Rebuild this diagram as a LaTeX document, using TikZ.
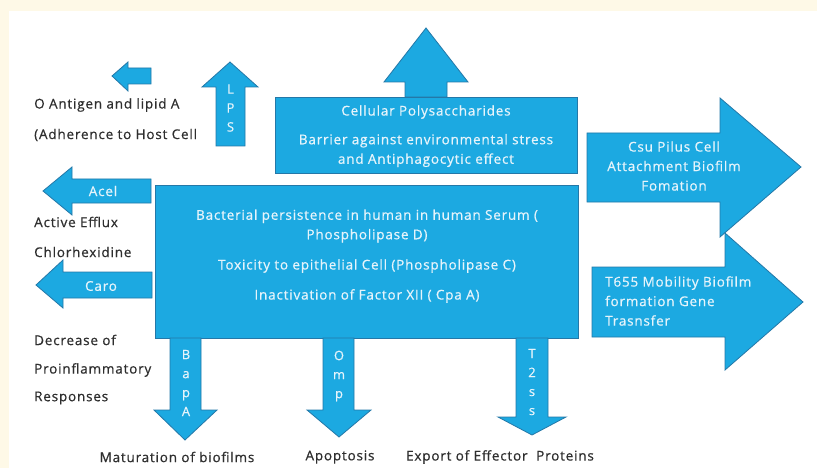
\documentclass[tikz,border=0pt]{standalone}
\usepackage{fontspec}
\setmainfont{Open Sans}[LetterSpace=6, FakeBold=0.6]
\definecolor{cream}{HTML}{FEF9E7}
\definecolor{arrowblue}{HTML}{1CA9E1}
\definecolor{edgeblue}{HTML}{2478A8}
\definecolor{intext}{HTML}{E6F4FB}
\definecolor{outtext}{HTML}{2E2E2E}
\tikzset{
  shapeblue/.style={fill=arrowblue, draw=edgeblue, line width=0.8pt, line join=miter},
  intxt/.style={text=intext, font=\fontsize{13.5}{19.5}\selectfont, inner sep=0pt, align=center},
  outtxt/.style={text=outtext, font=\fontsize{13.5}{15}\selectfont, inner sep=0pt},
  vtxt/.style={text=intext, font=\fontsize{13}{19}\selectfont, inner sep=0pt, align=center}
}
\begin{document}
\begin{tikzpicture}[x=1pt,y=-1pt]
\useasboundingbox (0,0) rectangle (817,468);
\fill[cream] (0,0) rectangle (817,468);
\fill[white] (9,11) rectangle (817,468);

% small top-left arrow
\draw[shapeblue] (112,76) -- (128,62) -- (128,68) -- (151,68) -- (151,84) -- (128,84) -- (128,91) -- cycle;
% LPS up arrow
\draw[shapeblue] (230,62) -- (258,87) -- (245,87) -- (245,146) -- (216,146) -- (216,87) -- (202,87) -- cycle;
\node[vtxt] (lps) at (230.5,108) {L\\P\\S};

% Cellular polysaccharides up arrow and box
\draw[shapeblue] (426,28) -- (468,82) -- (447,82) -- (447,97) -- (405,97) -- (405,82) -- (384,82) -- cycle;
\draw[shapeblue] (275,97) rectangle (577,173);
\node[intxt] (cp1) at (426,112) {Cellular Polysaccharides};
\node[intxt] (cp2) at (426,150.5) {Barrier against environmental stress\\and Antiphagocytic effect};

% Main box
\draw[shapeblue] (155,185) rectangle (578,338);
\node[intxt] (m1) at (367,226) {Bacterial persistence in human in human Serum (\\Phospholipase D)};
\node[intxt] (m2) at (367,266) {Toxicity to epithelial Cell (Phospholipase C)};
\node[intxt] (m3) at (367,296) {Inactivation of Factor XII ( Cpa A)};

% Acel arrow
\draw[shapeblue] (43,191) -- (72,167) -- (72,179) -- (151,179) -- (151,203) -- (72,203) -- (72,215) -- cycle;
\node[intxt] (acel) at (103,191) {Acel};
% Caro arrow
\draw[shapeblue] (36,285) -- (63,260) -- (63,272) -- (152,272) -- (152,298) -- (63,298) -- (63,308) -- cycle;
\node[intxt] (caro) at (101,286) {Caro};

% left texts
\node[outtxt, anchor=west] (t1) at (34,105) {O Antigen and lipid A};
\node[outtxt, anchor=west] (t2) at (34,135) {(Adherence to Host Cell};
\node[outtxt, anchor=west] (t3) at (34,222) {Active Efflux};
\node[outtxt, anchor=west] (t4) at (34,252) {Chlorhexidine};
\node[outtxt, anchor=west] (t5) at (34,340) {Decrease of};
\node[outtxt, anchor=west] (t6) at (34,370) {Proinflammatory};
\node[outtxt, anchor=west] (t7) at (34,398) {Responses};

% BapA down arrow
\draw[shapeblue] (170,338) -- (201,338) -- (201,410) -- (217,410) -- (185,440) -- (154,410) -- (170,410) -- cycle;
\node[vtxt] (bapa) at (186,383) {B\\a\\p\\A};
% Omp down arrow
\draw[shapeblue] (323,338) -- (354,338) -- (354,410) -- (371,410) -- (339,437) -- (307,410) -- (323,410) -- cycle;
\node[vtxt] (omp) at (339,376) {O\\m\\p};
% T2ss down arrow
\draw[shapeblue] (516,338) -- (548,338) -- (548,417) -- (566,417) -- (532,435) -- (498,417) -- (516,417) -- cycle;
\node[vtxt] (t2ss) at (532,382) {T\\2\\s\\s};

% bottom texts
\node[outtxt] (b1) at (177,457) {Maturation of biofilms};
\node[outtxt] (b2) at (340,457) {Apoptosis};
\node[outtxt] (b3) at (500,457) {Export of Effector\ \ Proteins};

% Csu right arrow
\draw[shapeblue] (587,133) -- (720,133) -- (720,98) -- (801,167) -- (720,237) -- (720,202) -- (587,202) -- cycle;
\node[intxt] (csu) at (674,166) {Csu Pilus Cell\\Attachment Biofilm\\Fomation};
% T655 right arrow
\draw[shapeblue] (592,267) -- (725,267) -- (725,233) -- (803,302) -- (725,370) -- (725,337) -- (592,337) -- cycle;
\node[intxt, align=left, anchor=west] (t655) at (605,301) {T655 Mobility Biofilm\\formation Gene\\Trasnsfer};
\end{tikzpicture}
\end{document}
